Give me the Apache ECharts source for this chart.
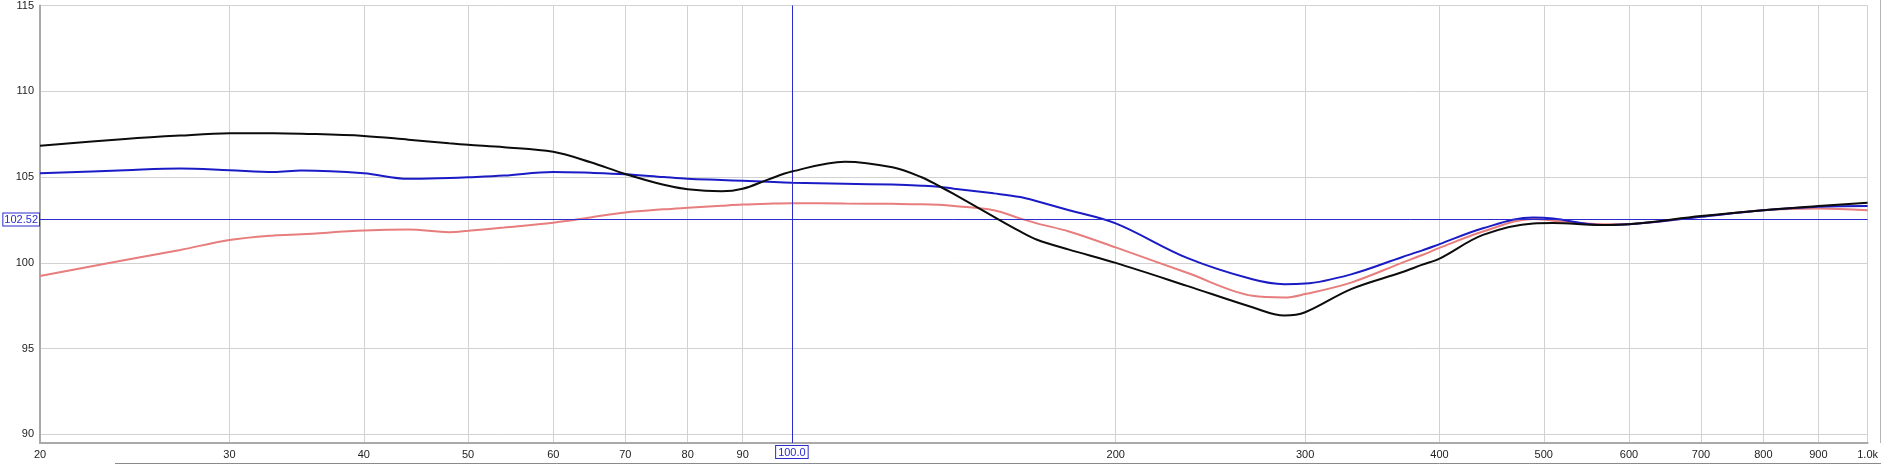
<!DOCTYPE html>
<html><head><meta charset="utf-8">
<script src="https://cdn.jsdelivr.net/npm/echarts@6/dist/echarts.min.js"></script>
<style>html,body{margin:0;padding:0;background:#fff;overflow:hidden}#c{width:1881px;height:464px}</style>
</head><body><div id="c"></div>
<script>
const freqs = [20, 24, 27, 30, 33, 35, 40, 44, 48, 50, 54, 60, 65, 70, 76, 80, 86, 90, 95, 100, 112, 124, 132, 137, 141.5, 154, 163, 169, 181, 200, 233, 268, 287, 300, 331, 369, 385, 400, 439, 489, 510, 566, 600, 700, 800, 900, 1000];
const blackVals = [106.82, 107.22, 107.42, 107.55, 107.56, 107.53, 107.40, 107.18, 106.97, 106.88, 106.74, 106.47, 105.86, 105.18, 104.55, 104.29, 104.17, 104.32, 104.85, 105.32, 105.90, 105.57, 104.99, 104.48, 104.00, 102.69, 101.83, 101.35, 100.77, 100.00, 98.66, 97.41, 96.93, 97.12, 98.47, 99.45, 99.88, 100.25, 101.63, 102.30, 102.32, 102.21, 102.25, 102.73, 103.07, 103.31, 103.51];
const blueVals = [105.22, 105.40, 105.50, 105.40, 105.30, 105.38, 105.22, 104.90, 104.95, 104.99, 105.09, 105.30, 105.25, 105.17, 105.00, 104.90, 104.83, 104.78, 104.72, 104.67, 104.61, 104.56, 104.50, 104.44, 104.32, 104.05, 103.84, 103.59, 103.07, 102.30, 100.29, 99.04, 98.76, 98.79, 99.33, 100.33, 100.71, 101.09, 102.02, 102.65, 102.59, 102.21, 102.25, 102.69, 103.07, 103.27, 103.32];
const redVals = [99.23, 100.16, 100.75, 101.33, 101.60, 101.67, 101.88, 101.94, 101.79, 101.87, 102.06, 102.34, 102.65, 102.94, 103.12, 103.21, 103.33, 103.40, 103.45, 103.48, 103.46, 103.44, 103.42, 103.38, 103.31, 103.07, 102.59, 102.30, 101.83, 100.90, 99.42, 98.08, 97.98, 98.18, 98.85, 100.00, 100.44, 100.87, 101.83, 102.56, 102.46, 102.25, 102.27, 102.69, 103.07, 103.17, 103.07];
const xTicks = [20, 30, 40, 50, 60, 70, 80, 90, 100, 200, 300, 400, 500, 600, 700, 800, 900, 1000];
const xLabelTicks = [20, 30, 40, 50, 60, 70, 80, 90, 200, 300, 400, 500, 600, 700, 800, 900, 1000];
const yTicks = [90, 95, 100, 105, 110, 115];
const cursorX = 100.0;
const cursorY = 102.52;

const pairs = v => freqs.map((f, i) => [f, v[i]]);
const chart = echarts.init(document.getElementById('c'), null, {renderer: 'canvas'});
const cursorColor = '#2b2bd0';
chart.setOption({
  animation: false,
  backgroundColor: '#fff',
  grid: {left: 40, right: 1, top: 1, bottom: 21, containLabel: false},
  xAxis: {
    type: 'log', logBase: 10, min: 20, max: 1000,
    axisLine: {show: true, onZero: false, lineStyle: {color: '#a9a9a9', width: 2}},
    axisTick: {show: false, customValues: xTicks},
    axisLabel: {
      customValues: xLabelTicks, margin: 6,
      color: '#222', fontSize: 11, fontFamily: 'Liberation Sans Narrow, Arial Narrow, Liberation Sans, sans-serif',
      formatter: v => v >= 1000 ? (v / 1000).toFixed(1) + 'k' : String(v)
    },
    splitLine: {show: true, lineStyle: {color: '#d2d2d2', width: 1}}
  },
  yAxis: {
    type: 'value', min: 89.5, max: 115,
    axisLine: {show: true, lineStyle: {color: '#a9a9a9', width: 2}},
    axisTick: {show: false, customValues: yTicks},
    axisLabel: {customValues: yTicks, margin: 6, color: '#222', fontSize: 11, fontFamily: 'Liberation Sans, Arial, sans-serif'},
    splitLine: {show: true, lineStyle: {color: '#d2d2d2', width: 1}}
  },
  graphic: [
    {type: 'line', shape: {x1: 115, y1: 463.5, x2: 1881, y2: 463.5}, style: {stroke: '#8a8a8a', lineWidth: 1}, silent: true},
    {type: 'line', shape: {x1: 1880.5, y1: 0, x2: 1880.5, y2: 443}, style: {stroke: '#b5b5b5', lineWidth: 1}, silent: true}
  ],
  series: [
    {type: 'line', name: 'red', data: pairs(redVals), smooth: 0.35, showSymbol: false, lineStyle: {color: '#e77d7d', width: 2}, z: 3},
    {type: 'line', name: 'blue', data: pairs(blueVals), smooth: 0.35, showSymbol: false, lineStyle: {color: '#1b1bc6', width: 2}, z: 4},
    {type: 'line', name: 'black', data: pairs(blackVals), smooth: 0.35, showSymbol: false, lineStyle: {color: '#0c0c0c', width: 2}, z: 5,
      markLine: {
        silent: true, symbol: 'none', animation: false,
        lineStyle: {color: cursorColor, width: 1, type: 'solid'},
        data: [
          {xAxis: cursorX, label: {show: true, position: 'start', distance: 3, formatter: cursorX.toFixed(1), color: cursorColor, fontSize: 11, fontFamily: 'Liberation Sans Narrow, Arial Narrow, sans-serif', backgroundColor: '#fff', borderColor: cursorColor, borderWidth: 1, padding: [1, 2, 0, 2]}},
          {yAxis: cursorY, label: {show: true, position: 'start', distance: 1, formatter: cursorY.toFixed(2), color: cursorColor, fontSize: 11, fontFamily: 'Liberation Sans, Arial, sans-serif', backgroundColor: '#fff', borderColor: cursorColor, borderWidth: 1, padding: [1, 1, 0, 1]}}
        ]
      }
    }
  ]
});
</script>
</body></html>
